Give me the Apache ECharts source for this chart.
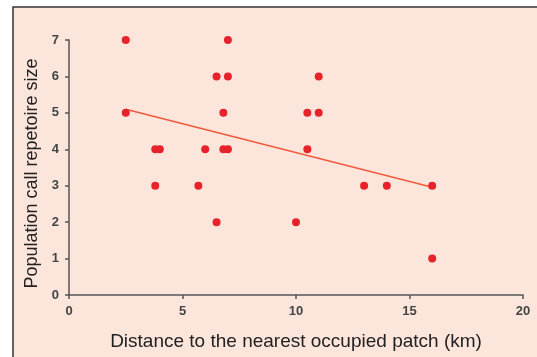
<!DOCTYPE html>
<html>
<head>
<meta charset="utf-8">
<script src="https://cdn.jsdelivr.net/npm/echarts@6/dist/echarts.min.js"></script>
<style>
  html, body { margin: 0; padding: 0; background: #fff; }
  #chart { width: 537px; height: 357px; }
</style>
</head>
<body>
<div id="chart"></div>
<script>
// 数据
var distance = [2.5, 2.5, 3.8, 4.0, 3.8, 5.7, 6.0, 6.5, 6.5, 7.0, 7.0, 6.8, 6.8, 7.0, 10.0, 10.5, 10.5, 11.0, 11.0, 13.0, 14.0, 16.0, 16.0];
var repertoire = [7, 5, 4, 4, 3, 3, 4, 2, 6, 6, 7, 5, 4, 4, 2, 4, 5, 5, 6, 3, 3, 3, 1];
// 回归线两端
var trendX = [2.5, 16];
var trendY = [5.1, 2.96];

var points = distance.map(function (d, i) { return [d, repertoire[i]]; });
var trend = trendX.map(function (d, i) { return [d, trendY[i]]; });

var myChart = echarts.init(document.getElementById('chart'));
var labelStyle = { color: '#444', fontWeight: 'bold', fontSize: 13, fontFamily: 'Liberation Sans' };
var option = {
  animation: false,
  graphic: [{
    type: 'rect',
    z: -10,
    shape: { x: 13, y: 7, width: 540, height: 360 },
    style: { fill: '#FCE6DC', stroke: '#333', lineWidth: 1.5 }
  }],
  grid: { left: 69, right: 14, top: 40, bottom: 62 },
  xAxis: {
    type: 'value',
    min: 0, max: 20, interval: 5,
    name: 'Distance to the nearest occupied patch (km)',
    nameLocation: 'middle',
    nameGap: 37,
    nameTextStyle: { color: '#222', fontSize: 19, fontFamily: 'Liberation Sans' },
    splitLine: { show: false },
    axisLine: { lineStyle: { color: '#555', width: 1.5 } },
    axisTick: { length: 4, lineStyle: { color: '#555', width: 1.5 } },
    axisLabel: Object.assign({ margin: 10 }, labelStyle)
  },
  yAxis: {
    type: 'value',
    min: 0, max: 7, interval: 1,
    name: 'Population call repetoire size',
    nameLocation: 'middle',
    nameGap: 28,
    nameTextStyle: { color: '#222', fontSize: 18, fontFamily: 'Liberation Sans', padding: [0, 12, 0, 0] },
    splitLine: { show: false },
    axisLine: { show: true, lineStyle: { color: '#555', width: 1.5 } },
    axisTick: { show: true, length: 4, lineStyle: { color: '#555', width: 1.5 } },
    axisLabel: Object.assign({ margin: 10 }, labelStyle)
  },
  series: [
    {
      type: 'line',
      data: trend,
      symbol: 'none',
      lineStyle: { color: '#F05A3C', width: 1.5 },
      z: 2
    },
    {
      type: 'scatter',
      data: points,
      symbol: 'circle',
      symbolSize: 8,
      itemStyle: { color: '#E8222A', opacity: 1 },
      z: 3
    }
  ]
};
myChart.setOption(option);
</script>
</body>
</html>
